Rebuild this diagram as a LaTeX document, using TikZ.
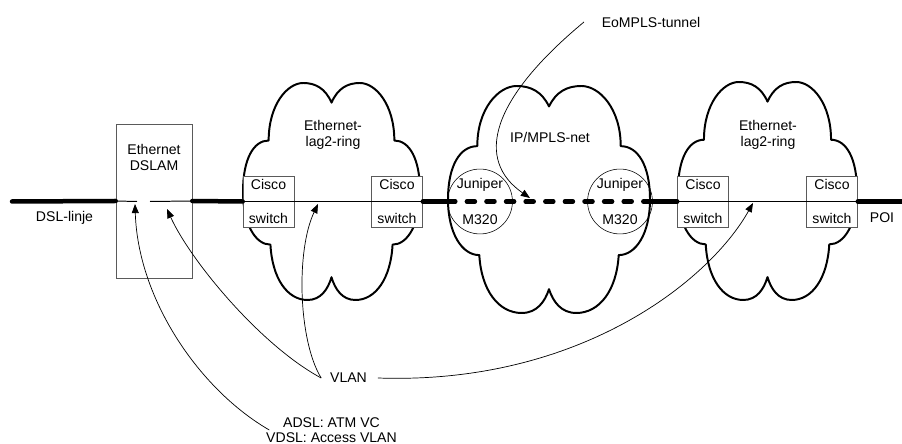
\documentclass[tikz,border=0pt]{standalone}
\usepackage{fontspec}
\setmainfont{Liberation Sans}
\usetikzlibrary{shapes.geometric, arrows.meta, positioning, calc}
\definecolor{boxGray}{HTML}{5A5A5A}

\begin{document}
\begin{tikzpicture}[x=0.025cm, y=0.025cm, font=\fontsize{10}{12}\selectfont,
    ring/.pic={
        \draw [line width=1.4pt, line join=round]
            (0,0.82) .. controls (-0.07,0.95) and (-0.18,1) .. (-0.32,1)
            .. controls (-0.5,1) and (-0.71,0.8) .. (-0.71,0.47)
            .. controls (-0.88,0.47) and (-1,0.3) .. (-1,0)
            .. controls (-1,-0.3) and (-0.86,-0.49) .. (-0.69,-0.49)
            .. controls (-0.67,-0.8) and (-0.5,-1) .. (-0.27,-1)
            .. controls (-0.12,-1) and (-0.04,-0.9) .. (0,-0.79)
            .. controls (0.04,-0.9) and (0.12,-1) .. (0.27,-1)
            .. controls (0.5,-1) and (0.67,-0.8) .. (0.69,-0.49)
            .. controls (0.86,-0.49) and (1,-0.3) .. (1,0)
            .. controls (1,0.3) and (0.88,0.47) .. (0.71,0.47)
            .. controls (0.71,0.8) and (0.5,1) .. (0.32,1)
            .. controls (0.18,1) and (0.07,0.95) .. cycle;
    }]
        % Styles
        \tikzstyle{switchbox} = [rectangle, draw=boxGray, fill=white, minimum width=1.275cm, minimum height=1.275cm, align=center, inner sep=0pt]
        \tikzstyle{router} = [circle, draw=black, line width=0.4pt, minimum size=1.55cm, align=center, inner sep=0pt]
        \tikzstyle{dslambox} = [rectangle, draw=boxGray, minimum width=1.9cm, minimum height=3.85cm]
        \tikzstyle{trunk} = [line width=3.2pt, line cap=round]
        \tikzstyle{tunnel} = [trunk, dash pattern=on 0.2cm off 0.29cm]
        \tikzstyle{access} = [line width=0.7pt]
        \tikzstyle{arrow} = [line width=0.5pt, -{Triangle[length=6.5pt, width=5pt]}]
        \tikzstyle{lbl} = [align=center]

        \useasboundingbox (0,0) rectangle (902,-444);

        % Clouds
        \pic [xscale=88.5, yscale=108.5] at (331.5,-191.5) {ring};
        \pic [xscale=101, yscale=113.5] at (549,-199.5) {ring};
        \pic [xscale=89.5, yscale=109] at (767.5,-191) {ring};

        \node (ring1txt) [lbl] at (333,-135) {Ethernet-\\[-0.6pt]lag2-ring};
        \node (mplstxt) at (550,-137) {IP/MPLS-net};
        \node (ring2txt) [lbl] at (768,-135) {Ethernet-\\[-0.6pt]lag2-ring};

        % Equipment
        \node (dslam) [dslambox] at (154,-201) {};
        \node (dslamtxt) [lbl] at (154,-157.5) {Ethernet\\[-0.6pt]DSLAM};
        \node (cisco1) [switchbox] at (268.5,-201.5) {Cisco\\[12pt]switch};
        \node (cisco2) [switchbox] at (397,-201.5) {Cisco\\[12pt]switch};
        \node (jun1) [router] at (480,-201.5) {Juniper\\[13pt]M320};
        \node (jun2) [router] at (620,-201.5) {Juniper\\[13pt]M320};
        \node (cisco3) [switchbox] at (703,-201.5) {Cisco\\[12pt]switch};
        \node (cisco4) [switchbox] at (832,-201.5) {Cisco\\[12pt]switch};

        % Line ends
        \coordinate (dslend) at (12,-201.5);
        \coordinate (poiend) at (904,-201.5);
        \coordinate (gapL) at (137,-201.5);
        \coordinate (gapR) at (150,-201.5);

        % Links
        \draw [trunk] (dslend) -- (dslam.west);
        \draw [access] (dslam.west) -- (gapL);
        \draw [access] (gapR) -- (dslam.east);
        \draw [trunk] (dslam.east) -- (cisco1.west);
        \draw [access] (cisco1.west) -- (cisco2.east);
        \draw [trunk] (cisco2.east) -- (jun1.west);
        \draw [tunnel] (jun1.west) -- (jun2.east);
        \draw [trunk] (jun2.east) -- (cisco3.west);
        \draw [access] (cisco3.west) -- (cisco4.east);
        \draw [trunk] (cisco4.east) -- (poiend);

        % Labels
        \node (dsl) at (64.5,-218) {DSL-linje};
        \node (poi) at (882,-218) {POI};
        \node (eompls) at (651,-22) {EoMPLS-tunnel};
        \node (vlan) at (348.5,-378) {VLAN};
        \node (adsl) [lbl] at (331.5,-430) {ADSL: ATM VC\\[-1pt]VDSL: Access VLAN};

        % Arrow tips
        \coordinate (atmtip) at (135,-204);
        \coordinate (vlantipA) at (167,-209);
        \coordinate (vlantipB) at (318,-204);
        \coordinate (vlantipC) at (753,-203);
        \coordinate (mplstip) at (530,-198);

        % Pointers
        \draw [arrow] ([xshift=2mm]adsl.west) .. controls (200,-390) and (138,-300) .. (atmtip);
        \draw [arrow] ([xshift=-1mm]vlan.west) .. controls (260,-345) and (190,-260) .. (vlantipA);
        \draw [arrow] ([xshift=-1mm]vlan.west) .. controls (298,-340) and (296,-250) .. (vlantipB);
        \draw [arrow] ([xshift=1.5mm]vlan.east) .. controls (580,-385) and (710,-280) .. (vlantipC);
        \draw [arrow] ([xshift=-3.2mm]eompls.west) .. controls (490,-100) and (475,-160) .. (mplstip);

    \end{tikzpicture}
\end{document}
